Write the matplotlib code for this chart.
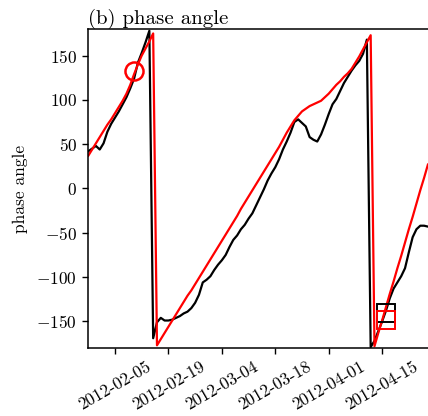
import matplotlib
matplotlib.use("Agg")
import matplotlib.pyplot as plt
import matplotlib.dates as mdates
import pandas as pd

plt.rcParams['font.family'] = 'serif'
plt.rcParams['font.serif'] = ['cmr10']
plt.rcParams['mathtext.fontset'] = 'cm'
plt.rcParams['axes.formatter.use_mathtext'] = True
plt.rcParams['axes.unicode_minus'] = True

# daily series starting 2012-01-29
start_date = '2012-01-29'
observed = [42, 45, 48, 44, 51, 64, 73, 80, 87, 95,
            103, 113, 124, 142, 153, 165, 178, -169, -151, -146,
            -149, -149, -148, -146, -144, -141, -139, -135, -129, -120,
            -106, -103, -99, -92, -86, -81, -75, -66, -58, -53,
            -46, -41, -34, -28, -19, -10, -1, 9, 17, 24,
            33, 44, 53, 63, 75, 78, 74, 70, 58, 55,
            53, 61, 72, 84, 95, 101, 110, 119, 126, 133,
            139, 144, 152, 168, -179, -172, -161, -150, -138, -124,
            -113, -106, -99, -90, -72, -55, -46, -42, -42, -43]
fitted = [37, 44, 51, 58, 65, 72, 78, 85, 92, 99,
          107, 117, 129, 140, 150, 158, 166, 175, -177, -170,
          -163, -156, -149, -142, -135, -128, -121, -115, -108, -101,
          -94, -87, -80, -73, -66, -59, -52, -45, -38, -31,
          -23, -16, -9, -2, 5, 12, 19, 26, 33, 40,
          47, 55, 63, 70, 77, 82, 87, 90, 93, 95,
          97, 99, 103, 107, 112, 117, 121, 126, 130, 135,
          142, 149, 157, 165, 173, -178, -163, -149, -134, -119,
          -105, -90, -76, -61, -46, -32, -17, -2, 12, 27]

# highlighted points
circle_date = '2012-02-10'
circle_value = 133
square_date = '2012-04-16'
square_observed = -140.5
square_fitted = -148

tick_dates = ['2012-02-05', '2012-02-19', '2012-03-04',
              '2012-03-18', '2012-04-01', '2012-04-15']

dates = pd.date_range(start_date, periods=len(observed), freq='D')

fig = plt.figure(figsize=(4.28, 4.16), dpi=100)
ax = fig.add_axes([0.2063, 0.1635, 0.8024, 0.7668])

ax.plot(dates, observed, color='black', lw=1.6)
ax.plot(dates, fitted, color='red', lw=1.6)
ax.plot(pd.Timestamp(circle_date), circle_value, 'o', mfc='none',
        mec='red', ms=13, mew=1.8)
ax.plot(pd.Timestamp(square_date), square_observed, 's', mfc='none',
        mec='black', ms=13.5, mew=1.4)
ax.plot(pd.Timestamp(square_date), square_fitted, 's', mfc='none',
        mec='red', ms=13.5, mew=1.4)

ax.set_xlim(pd.Timestamp('2012-01-29'), pd.Timestamp('2012-04-28'))
ax.set_ylim(-180, 180)
ax.set_yticks([-150, -100, -50, 0, 50, 100, 150])
ax.set_xticks(pd.to_datetime(tick_dates))
ax.xaxis.set_major_formatter(mdates.DateFormatter('%Y-%m-%d'))
for lab in ax.get_xticklabels():
    lab.set_rotation(30)
    lab.set_ha('center')

ax.tick_params(labelsize=12.5, width=1.0, length=4.5)
for s in ax.spines.values():
    s.set_linewidth(1.1)

ax.set_ylabel('phase angle', fontsize=12.5, labelpad=6)
ax.set_title('(b) phase angle', loc='left', fontsize=15, pad=3)

fig.savefig('out.png', dpi=100)
